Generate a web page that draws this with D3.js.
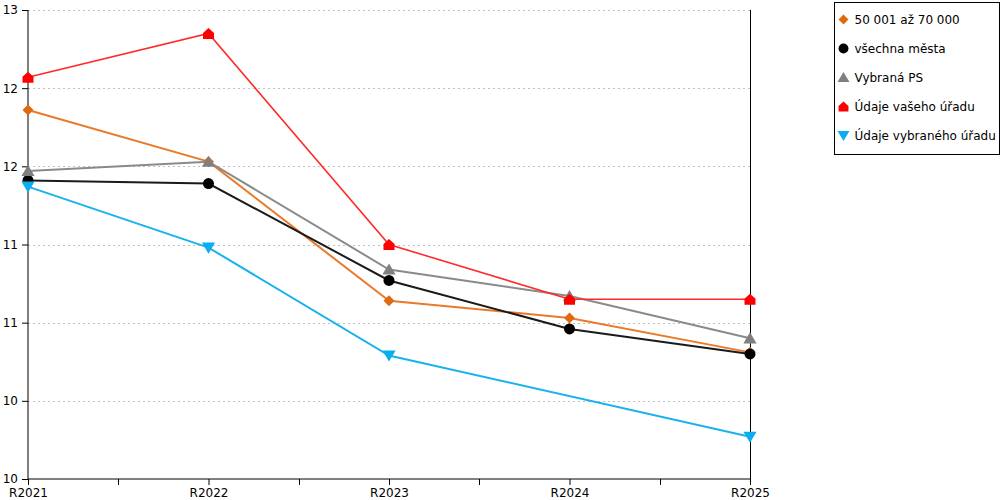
<!DOCTYPE html>
<html>
<head>
<meta charset="utf-8">
<script src="https://cdn.jsdelivr.net/npm/d3@7"></script>
<style>
  body { margin: 0; background: #fff; }
  svg { font-family: "DejaVu Sans", Verdana, sans-serif; }
  .grid line { stroke: #c0c0c0; stroke-dasharray: 2,3; }
</style>
</head>
<body>
<div id="chart"></div>
<script>
var width = 1000;
var height = 500;
var margin = {top: 10, right: 250, bottom: 21, left: 28};

var years = ["R2021", "R2022", "R2023", "R2024", "R2025"];
var yTicks = [10, 10.5, 11, 11.5, 12, 12.5, 13];

var skupina = [12.36, 12.03, 11.14, 11.03, 10.81];
var vsechnaMesta = [11.91, 11.89, 11.27, 10.96, 10.80];
var vybranaPS = [11.97, 12.03, 11.34, 11.17, 10.90];
var vasUrad = [12.57, 12.85, 11.50, 11.15, 11.15];
var vybranyUrad = [11.87, 11.48, 10.79, null, 10.27];

var seriesNames = ["50 001 až 70 000", "všechna města", "Vybraná PS", "Údaje vašeho úřadu", "Údaje vybraného úřadu"];
var seriesValues = [skupina, vsechnaMesta, vybranaPS, vasUrad, vybranyUrad];
var lineColors = ["#ea7a2a", "#1a1a1a", "#8a8a8a", "#ff2a2a", "#1ab2ee"];
var markColors = ["#e06a10", "#000000", "#7f7f7f", "#ff0000", "#0aaeee"];
var markShapes = ["diamond", "circle", "triangle", "house", "down"];

var svg = d3.select("#chart").append("svg")
    .attr("width", width)
    .attr("height", height);

var xScale = d3.scalePoint().domain(years).range([margin.left, width - margin.right]);
var yScale = d3.scaleLinear().domain([10, 13]).range([height - margin.bottom, margin.top]);

function markerPath(shape, s) {
  if (shape == "diamond") return "M0," + (-s) + "L" + s + ",0L0," + s + "L" + (-s) + ",0Z";
  if (shape == "circle") return d3.symbol().type(d3.symbolCircle).size(Math.PI * s * s)();
  if (shape == "triangle") return "M0," + (-s) + "L" + (s * 1.1) + "," + (s * 0.85) + "L" + (-s * 1.1) + "," + (s * 0.85) + "Z";
  if (shape == "down") return "M0," + s + "L" + (s * 1.1) + "," + (-s * 0.85) + "L" + (-s * 1.1) + "," + (-s * 0.85) + "Z";
  // house
  return "M" + (-s) + "," + s + "L" + (-s) + "," + (-s * 0.1) + "L0," + (-s) + "L" + s + "," + (-s * 0.1) + "L" + s + "," + s + "Z";
}
var markSizes = [5.5, 5.5, 6, 5.5, 6];

// gridlines
svg.append("g")
    .attr("class", "grid")
    .selectAll("line")
    .data(yTicks.filter(function(d) { return d > 10; }))
    .enter().append("line")
      .attr("x1", margin.left)
      .attr("x2", width - margin.right)
      .attr("y1", function(d) { return Math.round(yScale(d)) + 0.5; })
      .attr("y2", function(d) { return Math.round(yScale(d)) + 0.5; });

// right border
svg.append("line")
    .attr("x1", width - margin.right + 0.5).attr("x2", width - margin.right + 0.5)
    .attr("y1", margin.top).attr("y2", height - margin.bottom)
    .attr("stroke", "#000")
    .attr("shape-rendering", "crispEdges");

var yAxis = d3.axisLeft(yScale)
    .tickValues(yTicks)
    .tickSize(6)
    .tickPadding(4)
    .tickFormat(function(d) { return Math.floor(d); });

svg.append("g")
    .attr("transform", "translate(" + margin.left + ",0)")
    .call(yAxis)
    .call(function(g) { g.select(".domain").attr("d", "M0," + margin.top + "V" + (height - margin.bottom)); })
    .selectAll("text").attr("font-size", 12).attr("font-family", "DejaVu Sans").attr("fill", "#000");

var xAxis = d3.axisBottom(xScale).tickSize(6).tickPadding(3);
svg.append("g")
    .attr("transform", "translate(0," + (height - margin.bottom) + ")")
    .call(xAxis)
    .call(function(g) { g.select(".domain").attr("d", "M" + margin.left + ",0H" + (width - margin.right)); })
    .selectAll("text").attr("font-size", 12).attr("font-family", "DejaVu Sans").attr("fill", "#000");

// minor ticks between categories
var mids = d3.pairs(years).map(function(p) { return Math.round((xScale(p[0]) + xScale(p[1])) / 2) + 0.5; });
svg.append("g")
    .selectAll("line")
    .data(mids)
    .enter().append("line")
      .attr("x1", function(d) { return d; })
      .attr("x2", function(d) { return d; })
      .attr("y1", height - margin.bottom)
      .attr("y2", height - margin.bottom + 6)
      .attr("stroke", "#000");

var line = d3.line()
    .defined(function(d) { return d.v != null; })
    .x(function(d) { return xScale(d.year); })
    .y(function(d) { return yScale(d.v); });

seriesValues.forEach(function(vals, i) {
  var pts = years.map(function(y, j) { return {year: y, v: vals[j]}; });
  var defined = pts.filter(function(d) { return d.v != null; });
  svg.append("path")
      .attr("d", line(defined))
      .attr("fill", "none")
      .attr("stroke", lineColors[i])
      .attr("stroke-width", i == 3 ? 1.6 : 2);
  svg.append("g").selectAll("path")
      .data(defined)
      .enter().append("path")
        .attr("transform", function(d) { return "translate(" + xScale(d.year) + "," + yScale(d.v) + ")"; })
        .attr("d", markerPath(markShapes[i], markSizes[i]))
        .attr("fill", markColors[i]);
});

// legend
var legend = svg.append("g").attr("transform", "translate(834.5,2.5)");
legend.append("rect")
    .attr("width", 165)
    .attr("height", 152)
    .attr("fill", "#fff")
    .attr("stroke", "#000");

seriesNames.forEach(function(name, i) {
  var row = legend.append("g").attr("transform", "translate(9," + (17 + i * 29) + ")");
  row.append("path")
      .attr("d", markerPath(markShapes[i], markSizes[i] * 0.9))
      .attr("fill", markColors[i]);
  row.append("text")
      .attr("x", 11)
      .attr("y", 4)
      .attr("font-size", 12)
      .text(name);
});
</script>
</body>
</html>
